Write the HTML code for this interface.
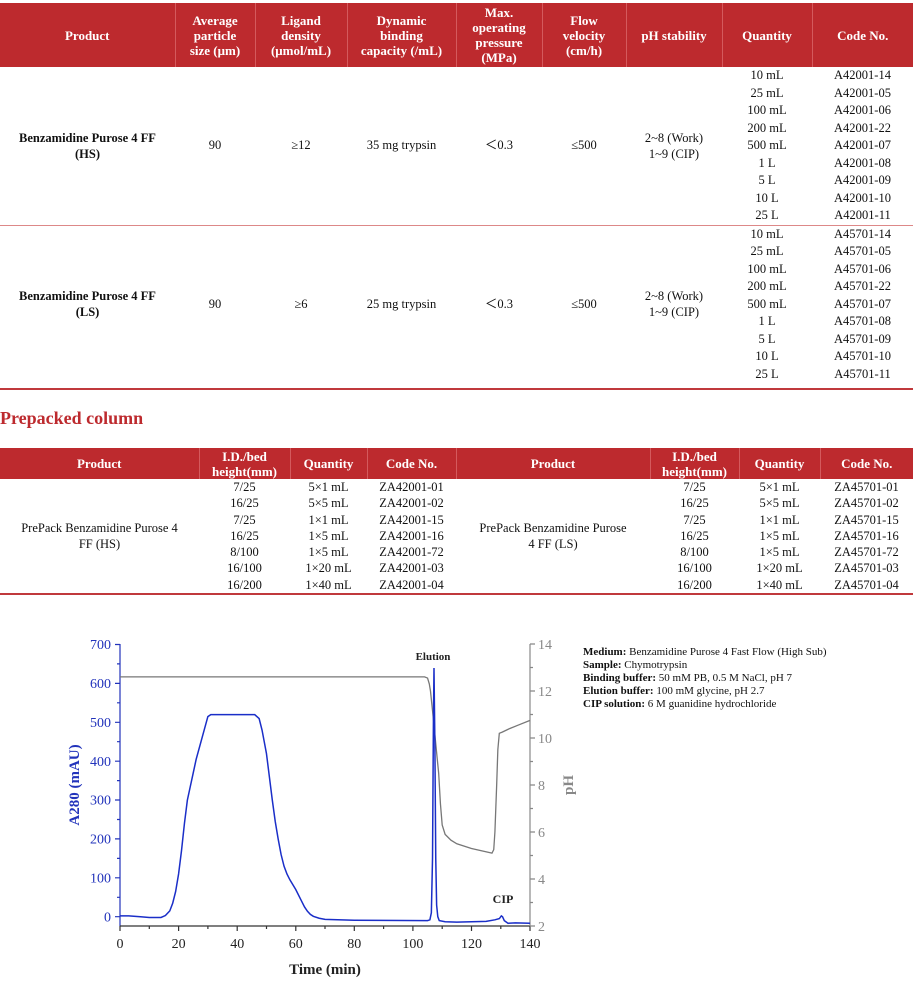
<!DOCTYPE html>
<html><head><meta charset="utf-8"><style>
body{margin:0;width:913px;height:1000px;background:#fff;font-family:"Liberation Serif",serif;position:relative;overflow:hidden}
table{border-collapse:collapse;position:absolute;left:0;table-layout:fixed;font-size:12.5px;color:#111}
th{background:#bd2a2e;color:#fff;font-weight:bold;font-size:13px;border-right:1px solid #d45a5d;line-height:15px;padding:0}
th:last-child{border-right:none}
td{text-align:center;padding:0;line-height:17.5px;height:17.5px}
.t2 td{line-height:16.3px;height:16.3px}
.b{font-weight:bold}
</style></head><body>
<table style="top:3px;width:913px">
<colgroup><col style="width:175px"><col style="width:80px"><col style="width:92px"><col style="width:109px"><col style="width:86px"><col style="width:84px"><col style="width:96px"><col style="width:90px"><col style="width:101px"></colgroup>
<tr style="height:64px"><th>Product</th><th style="padding:0 10px">Average particle size (μm)</th><th style="padding:0 12px">Ligand density (μmol/mL)</th><th style="padding:0 9px">Dynamic binding capacity (/mL)</th><th style="padding:0 6px">Max. operating pressure (MPa)</th><th style="padding:0 14px">Flow velocity (cm/h)</th><th>pH stability</th><th>Quantity</th><th>Code No.</th></tr>
<tr><td rowspan="9" class="b" style="line-height:16px">Benzamidine Purose 4 FF<br>(HS)</td><td rowspan="9">90</td><td rowspan="9">≥12</td><td rowspan="9">35 mg trypsin</td><td rowspan="9">＜0.3</td><td rowspan="9">≤500</td><td rowspan="9" style="line-height:16px">2~8 (Work)<br>1~9 (CIP)</td><td>10 mL</td><td>A42001-14</td></tr>
<tr><td>25 mL</td><td>A42001-05</td></tr><tr><td>100 mL</td><td>A42001-06</td></tr><tr><td>200 mL</td><td>A42001-22</td></tr><tr><td>500 mL</td><td>A42001-07</td></tr><tr><td>1 L</td><td>A42001-08</td></tr><tr><td>5 L</td><td>A42001-09</td></tr><tr><td>10 L</td><td>A42001-10</td></tr><tr><td>25 L</td><td>A42001-11</td></tr>
<tr style="border-top:1.5px solid #d88"><td rowspan="9" class="b" style="line-height:16px">Benzamidine Purose 4 FF<br>(LS)</td><td rowspan="9">90</td><td rowspan="9">≥6</td><td rowspan="9">25 mg trypsin</td><td rowspan="9">＜0.3</td><td rowspan="9">≤500</td><td rowspan="9" style="line-height:16px">2~8 (Work)<br>1~9 (CIP)</td><td>10 mL</td><td>A45701-14</td></tr>
<tr><td>25 mL</td><td>A45701-05</td></tr><tr><td>100 mL</td><td>A45701-06</td></tr><tr><td>200 mL</td><td>A45701-22</td></tr><tr><td>500 mL</td><td>A45701-07</td></tr><tr><td>1 L</td><td>A45701-08</td></tr><tr><td>5 L</td><td>A45701-09</td></tr><tr><td>10 L</td><td>A45701-10</td></tr><tr><td>25 L</td><td>A45701-11</td></tr>
</table>
<div style="position:absolute;left:0;top:388px;width:913px;height:2px;background:#c0393c"></div>
<div style="position:absolute;left:0;top:408px;color:#bd2a2e;font-weight:bold;font-size:18px">Prepacked column</div>
<table class="t2" style="top:448px;width:913px">
<colgroup><col style="width:199px"><col style="width:91px"><col style="width:77px"><col style="width:89px"><col style="width:194px"><col style="width:89px"><col style="width:81px"><col style="width:93px"></colgroup>
<tr style="height:31px"><th>Product</th><th>I.D./bed height(mm)</th><th>Quantity</th><th>Code No.</th><th>Product</th><th>I.D./bed height(mm)</th><th>Quantity</th><th>Code No.</th></tr>
<tr><td rowspan="7" style="line-height:16px">PrePack Benzamidine Purose 4<br>FF (HS)</td><td>7/25</td><td>5×1 mL</td><td>ZA42001-01</td><td rowspan="7" style="line-height:16px">PrePack Benzamidine Purose<br>4 FF (LS)</td><td>7/25</td><td>5×1 mL</td><td>ZA45701-01</td></tr>
<tr><td>16/25</td><td>5×5 mL</td><td>ZA42001-02</td><td>16/25</td><td>5×5 mL</td><td>ZA45701-02</td></tr>
<tr><td>7/25</td><td>1×1 mL</td><td>ZA42001-15</td><td>7/25</td><td>1×1 mL</td><td>ZA45701-15</td></tr>
<tr><td>16/25</td><td>1×5 mL</td><td>ZA42001-16</td><td>16/25</td><td>1×5 mL</td><td>ZA45701-16</td></tr>
<tr><td>8/100</td><td>1×5 mL</td><td>ZA42001-72</td><td>8/100</td><td>1×5 mL</td><td>ZA45701-72</td></tr>
<tr><td>16/100</td><td>1×20 mL</td><td>ZA42001-03</td><td>16/100</td><td>1×20 mL</td><td>ZA45701-03</td></tr>
<tr><td>16/200</td><td>1×40 mL</td><td>ZA42001-04</td><td>16/200</td><td>1×40 mL</td><td>ZA45701-04</td></tr>
</table>
<div style="position:absolute;left:0;top:593px;width:913px;height:2px;background:#c0393c"></div>

<svg style="position:absolute;left:0;top:0" width="913" height="1000" font-family="Liberation Serif, serif">
<g stroke="#2233bb" stroke-width="1.2">
<line x1="120" y1="644" x2="120" y2="926"/>
<path d="M120 916.7h-5M120 877.8h-5M120 838.9h-5M120 800h-5M120 761.2h-5M120 722.3h-5M120 683.4h-5M120 644.5h-5M120 897.3h-3M120 858.4h-3M120 819.5h-3M120 780.6h-3M120 741.7h-3M120 702.8h-3M120 663.9h-3"/>
</g>
<g fill="#2233bb" font-size="14" text-anchor="end">
<text x="111" y="921.5">0</text><text x="111" y="882.5">100</text><text x="111" y="843.5">200</text><text x="111" y="804.5">300</text><text x="111" y="766">400</text><text x="111" y="727">500</text><text x="111" y="688">600</text><text x="111" y="649">700</text>
</g>
<text transform="translate(79,785) rotate(-90)" text-anchor="middle" fill="#2233bb" font-size="15" font-weight="bold">A280 (mAU)</text>
<g stroke="#333" stroke-width="1.2">
<line x1="120" y1="926" x2="530" y2="926"/>
<path d="M120 926v5M178.6 926v5M237.2 926v5M295.8 926v5M354.3 926v5M412.9 926v5M471.5 926v5M530 926v5M149.3 926v3M207.9 926v3M266.5 926v3M325 926v3M383.6 926v3M442.2 926v3M500.8 926v3"/>
</g>
<g fill="#222" font-size="14" text-anchor="middle">
<text x="120" y="948">0</text><text x="178.6" y="948">20</text><text x="237.2" y="948">40</text><text x="295.8" y="948">60</text><text x="354.3" y="948">80</text><text x="412.9" y="948">100</text><text x="471.5" y="948">120</text><text x="530" y="948">140</text>
</g>
<text x="325" y="974" text-anchor="middle" font-size="15" font-weight="bold" fill="#222">Time (min)</text>
<g stroke="#888" stroke-width="1.2">
<line x1="530" y1="644" x2="530" y2="926"/>
<path d="M530 644h5M530 691h5M530 738h5M530 785h5M530 832h5M530 879h5M530 926h5M530 667.5h3M530 714.5h3M530 761.5h3M530 808.5h3M530 855.5h3M530 902.5h3"/>
</g>
<g fill="#888" font-size="14">
<text x="538" y="649">14</text><text x="538" y="696">12</text><text x="538" y="743">10</text><text x="538" y="790">8</text><text x="538" y="837">6</text><text x="538" y="884">4</text><text x="538" y="931">2</text>
</g>
<text transform="translate(573,785) rotate(-90)" text-anchor="middle" fill="#888" font-size="15" font-weight="bold">pH</text>
<g transform="translate(120,973) scale(2.929,-23.5)">
<polyline fill="none" stroke="#777" stroke-width="1.3" vector-effect="non-scaling-stroke" points="0,12.6 104,12.6 105,12.55 105.6,12.3 106,12 107,10.8 108,9.5 108.8,8.5 109.4,7.2 110,6.3 111,5.9 113,5.65 115,5.5 120,5.3 127,5.1 127.6,5.25 128,6 128.6,8 129,9.5 129.5,10.2 130.5,10.25 133,10.4 136,10.55 140,10.75"/>
</g>
<g transform="translate(120,916.7) scale(2.929,-0.3886)">
<polyline fill="none" stroke="#1a2ec8" stroke-width="1.5" vector-effect="non-scaling-stroke" points="0,2 3,2 7,0 10,-2 14,-2 15.5,3 17,15 18,35 19,65 20,110 21,170 22,240 23,300 24,335 25,370 26,405 28,460 30,515 31,520 46,520 47.5,510 48.5,480 50,420 51,360 52,300 53,245 54,200 55,160 56,130 57,110 58,95 60,70 62,40 63,25 64,14 65,6 66,1 68,-4 70,-7 80,-9 105,-10 105.8,-8 106.3,10 106.7,150 107,500 107.2,640 107.5,450 107.8,150 108.1,30 108.5,0 109,-10 111,-13 115,-14 125,-12 128,-8 129.5,-5 130.2,2 130.6,0 131.2,-10 132.5,-17 135,-16 140,-17"/>
</g>
<text x="433" y="660" text-anchor="middle" font-size="11" font-weight="bold" fill="#222">Elution</text>
<text x="503" y="903" text-anchor="middle" font-size="12" font-weight="bold" fill="#222">CIP</text>
<g font-size="11" fill="#111">
<text x="583" y="655"><tspan font-weight="bold">Medium:</tspan> Benzamidine Purose 4 Fast Flow (High Sub)</text>
<text x="583" y="668"><tspan font-weight="bold">Sample:</tspan> Chymotrypsin</text>
<text x="583" y="681"><tspan font-weight="bold">Binding buffer:</tspan> 50 mM PB, 0.5 M NaCl, pH 7</text>
<text x="583" y="694"><tspan font-weight="bold">Elution buffer:</tspan> 100 mM glycine, pH 2.7</text>
<text x="583" y="707"><tspan font-weight="bold">CIP solution:</tspan> 6 M guanidine hydrochloride</text>
</g>
</svg>
</body></html>
